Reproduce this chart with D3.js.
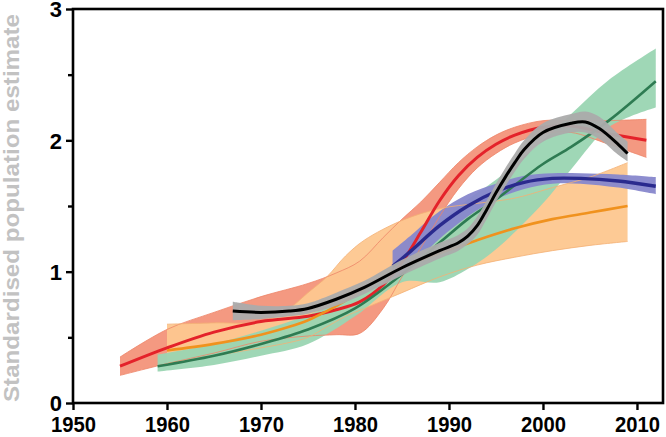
<!DOCTYPE html>
<html><head><meta charset="utf-8">
<script src="https://cdn.jsdelivr.net/npm/d3@7"></script>
<style>body{margin:0;background:#fff}svg{display:block}</style>
</head><body>
<svg id="c" width="666" height="437"></svg>
<script>
// ---- data ----
const xTicks = [1950, 1960, 1970, 1980, 1990, 2000, 2010];
const yTicks = [0, 1, 2, 3];
const yMinorTicks = [0.5, 1.5, 2.5];
const yTitle = "Standardised population estimate";

// red series (salmon band)
const redYears = [1955, 1960, 1965, 1970, 1975, 1978, 1980.5, 1983, 1985, 1987, 1989, 1991, 1993, 1995, 1997, 2000, 2003, 2007, 2011];
const redMean  = [0.28, 0.42, 0.54, 0.62, 0.66, 0.71, 0.77, 0.90, 1.07, 1.30, 1.54, 1.73, 1.87, 1.97, 2.04, 2.10, 2.11, 2.05, 2.00];
const redUpper = [0.35, 0.56, 0.69, 0.81, 0.91, 0.99, 1.08, 1.26, 1.40, 1.53, 1.68, 1.83, 1.95, 2.04, 2.10, 2.15, 2.15, 2.15, 2.16];
const redLower = [0.21, 0.30, 0.38, 0.47, 0.51, 0.52, 0.53, 0.72, 0.96, 1.18, 1.42, 1.63, 1.79, 1.90, 1.98, 2.05, 2.06, 1.97, 1.87];

// orange series
const orangeYears = [1960, 1965, 1970, 1973, 1975, 1977, 1979, 1981, 1985, 1989, 1993, 1997, 2001, 2005, 2009];
const orangeMean  = [0.40, 0.45, 0.52, 0.58, 0.63, 0.70, 0.78, 0.87, 1.03, 1.14, 1.24, 1.33, 1.40, 1.45, 1.50];
const orangeUpper = [0.60, 0.61, 0.62, 0.72, 0.84, 0.96, 1.12, 1.24, 1.39, 1.48, 1.52, 1.56, 1.64, 1.72, 1.83];
const orangeLower = [0.30, 0.36, 0.42, 0.46, 0.50, 0.58, 0.66, 0.72, 0.84, 0.96, 1.05, 1.11, 1.16, 1.20, 1.23];

// green series
const greenYears = [1959, 1965, 1970, 1975, 1980, 1985, 1989, 1992, 1995, 2000, 2003, 2007, 2012];
const greenMean  = [0.28, 0.36, 0.45, 0.56, 0.72, 0.98, 1.22, 1.40, 1.55, 1.82, 1.95, 2.15, 2.45];
const greenUpper = [0.37, 0.45, 0.55, 0.67, 0.82, 1.08, 1.38, 1.55, 1.70, 2.00, 2.20, 2.46, 2.70];
const greenLower = [0.24, 0.29, 0.36, 0.45, 0.66, 0.92, 0.92, 1.02, 1.17, 1.52, 1.78, 2.10, 2.25];

// blue series
const blueYears = [1984, 1986, 1989, 1992, 1995, 1998, 2001, 2004, 2008, 2012];
const blueMean  = [1.04, 1.16, 1.35, 1.50, 1.61, 1.68, 1.71, 1.71, 1.69, 1.65];
const blueUpper = [1.16, 1.28, 1.46, 1.59, 1.67, 1.73, 1.75, 1.75, 1.74, 1.72];
const blueLower = [0.92, 1.04, 1.25, 1.42, 1.55, 1.63, 1.67, 1.67, 1.64, 1.59];

// black series (grey band)
const blackYears = [1967, 1970, 1973, 1975, 1978, 1981, 1985, 1989, 1991, 1992, 1993, 1994, 1995, 1996, 1997, 1998, 2000, 2003, 2004.5, 2006, 2008, 2009];
const blackMean  = [0.70, 0.69, 0.70, 0.72, 0.79, 0.88, 1.03, 1.16, 1.22, 1.27, 1.35, 1.47, 1.60, 1.72, 1.83, 1.93, 2.06, 2.13, 2.14, 2.09, 1.97, 1.90];
const blackUpper = [0.77, 0.74, 0.74, 0.76, 0.84, 0.93, 1.09, 1.22, 1.28, 1.33, 1.42, 1.54, 1.67, 1.79, 1.90, 2.00, 2.13, 2.20, 2.22, 2.18, 2.05, 1.99];
const blackLower = [0.63, 0.64, 0.66, 0.68, 0.74, 0.83, 0.97, 1.10, 1.16, 1.21, 1.28, 1.40, 1.53, 1.65, 1.76, 1.86, 1.99, 2.06, 2.06, 2.01, 1.89, 1.84];

// ---- chart ----
const svg = d3.select("#c");
const L = 73, R = 663, T = 9, B = 403;
const x = d3.scaleLinear().domain([1950, 2012.77]).range([L, R]);
const y = d3.scaleLinear().domain([0, 3]).range([B, T]);

function rows(yrs, m, u, l) { return yrs.map((yr, i) => ({yr, m: m[i], u: u[i], l: l[i]})); }
const series = {
  red:    {d: rows(redYears, redMean, redUpper, redLower), band: "#F3937A", edge: "#EE8468", line: "#E4222A", w: 3},
  orange: {d: rows(orangeYears, orangeMean, orangeUpper, orangeLower), band: "#FDC78F", edge: "#F4B074", line: "#F0921E", w: 2.6},
  green:  {d: rows(greenYears, greenMean, greenUpper, greenLower), band: "#9AD5B2", line: "#2E7B52", w: 2.6},
  blue:   {d: rows(blueYears, blueMean, blueUpper, blueLower), band: "#8787CC", line: "#2A2A8E", w: 3.4},
  black:  {d: rows(blackYears, blackMean, blackUpper, blackLower), band: "#ABABAB", line: "#000000", w: 3}
};
const curve = d3.curveCatmullRom.alpha(0.5);
const area = d3.area().x(d => x(d.yr)).y0(d => y(d.l)).y1(d => y(d.u)).curve(curve);
const lineM = d3.line().x(d => x(d.yr)).y(d => y(d.m)).curve(curve);
const lineU = d3.line().x(d => x(d.yr)).y(d => y(d.u)).curve(curve);
const lineL = d3.line().x(d => x(d.yr)).y(d => y(d.l)).curve(curve);

const g = svg.append("g");
function band(s) {
  g.append("path").attr("d", area(s.d)).attr("fill", s.band).attr("opacity", 0.95);
}
band(series.red);
band(series.orange);
band(series.green);
band(series.blue);
[series.red, series.orange].forEach(s => {
  [lineU, lineL].forEach(fn => g.append("path").attr("d", fn(s.d)).attr("fill", "none")
    .attr("stroke", s.edge).attr("stroke-width", 1).attr("opacity", 0.8));
});
["red", "orange", "green", "blue"].forEach(k => {
  const s = series[k];
  g.append("path").attr("d", lineM(s.d)).attr("fill", "none").attr("stroke", s.line)
    .attr("stroke-width", s.w).attr("stroke-linecap", "butt");
});
band(series.black);
g.append("path").attr("d", lineM(series.black.d)).attr("fill", "none").attr("stroke", "#000")
  .attr("stroke-width", series.black.w);

// frame & axes
svg.append("rect").attr("x", L).attr("y", T).attr("width", R - L).attr("height", B - T)
  .attr("fill", "none").attr("stroke", "#000").attr("stroke-width", 2.6);

const yAxis = d3.axisLeft(y).tickValues(yTicks).tickSize(7).tickPadding(4).tickFormat(d3.format("d"));
const ya = svg.append("g").attr("transform", `translate(${L},0)`).call(yAxis);
ya.select(".domain").remove();
const yMinor = d3.axisLeft(y).tickValues(yMinorTicks).tickSize(5).tickFormat("");
const ym = svg.append("g").attr("transform", `translate(${L},0)`).call(yMinor);
ym.select(".domain").remove();

const xAxis = d3.axisBottom(x).tickValues(xTicks).tickSize(7).tickPadding(7).tickFormat(d3.format("d"));
const xa = svg.append("g").attr("transform", `translate(0,${B})`).call(xAxis);
xa.select(".domain").remove();

svg.selectAll(".tick line").attr("stroke", "#000").attr("stroke-width", 2.4);
svg.selectAll(".tick text").attr("font-family", "Liberation Sans, Arial, sans-serif")
  .attr("font-weight", "bold").attr("font-size", 22).attr("fill", "#000");
ya.selectAll(".tick text").attr("dy", "0.36em");
xa.selectAll(".tick text").attr("textLength", 45).attr("lengthAdjust", "spacingAndGlyphs")
  .attr("dy", "0.7em");

svg.append("text").attr("transform", `translate(19,${(T + B) / 2 + 2}) rotate(-90)`)
  .attr("text-anchor", "middle").attr("font-family", "Liberation Sans, Arial, sans-serif")
  .attr("font-weight", "bold").attr("font-size", 22).attr("fill", "#C2C2C2")
  .attr("textLength", 388).attr("lengthAdjust", "spacingAndGlyphs").text(yTitle);
</script>
</body></html>
